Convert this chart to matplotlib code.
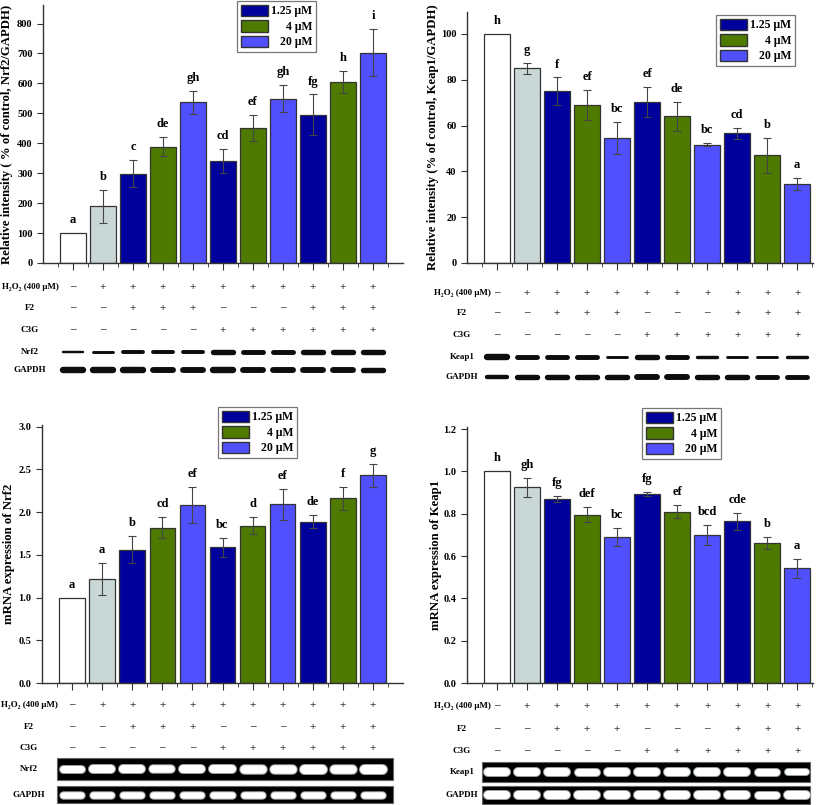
import numpy as np
import matplotlib.pyplot as plt
from matplotlib.patches import Patch, Rectangle

plt.rcParams['font.family'] = ['Liberation Serif', 'DejaVu Serif']
plt.rcParams['font.weight'] = 'bold'

# ---- data ----
lanes = np.arange(1, 12)
h2o2 = ['–', '+', '+', '+', '+', '+', '+', '+', '+', '+', '+']
f2 = ['–', '–', '+', '+', '+', '–', '–', '–', '+', '+', '+']
c3g = ['–', '–', '–', '–', '–', '+', '+', '+', '+', '+', '+']
doses = ['1.25 μM', '4 μM', '20 μM']

nrf2_prot = [100, 190, 298, 388, 537, 342, 451, 549, 496, 605, 703]
nrf2_prot_err = [0, 55, 45, 32, 38, 40, 42, 46, 67, 38, 78]
nrf2_prot_sig = ['a', 'b', 'c', 'de', 'gh', 'cd', 'ef', 'gh', 'fg', 'h', 'i']

keap1_prot = [100, 85, 75, 69, 54.7, 70.2, 64, 51.7, 56.6, 47, 34.6]
keap1_prot_err = [0, 2.5, 6, 6.5, 7, 6.5, 6.5, 0.8, 2.3, 7.5, 2.7]
keap1_prot_sig = ['h', 'g', 'f', 'ef', 'bc', 'ef', 'de', 'bc', 'cd', 'b', 'a']

nrf2_mrna = [1.0, 1.22, 1.56, 1.82, 2.08, 1.59, 1.84, 2.09, 1.89, 2.16, 2.43]
nrf2_mrna_err = [0, 0.19, 0.16, 0.12, 0.21, 0.11, 0.10, 0.18, 0.08, 0.13, 0.13]
nrf2_mrna_sig = ['a', 'a', 'b', 'cd', 'ef', 'bc', 'd', 'ef', 'de', 'f', 'g']

keap1_mrna = [1.0, 0.925, 0.87, 0.795, 0.69, 0.893, 0.81, 0.70, 0.765, 0.66, 0.543]
keap1_mrna_err = [0, 0.045, 0.015, 0.035, 0.043, 0.01, 0.03, 0.047, 0.04, 0.028, 0.045]
keap1_mrna_sig = ['h', 'gh', 'fg', 'def', 'bc', 'fg', 'ef', 'bcd', 'cde', 'b', 'a']

# band thickness (px) read from the blots
wb_nrf2 = [2, 2.5, 3.5, 3.5, 3.5, 5, 4.5, 4.5, 5, 5, 5]
wb_gapdh1 = [6, 6, 6, 5.5, 5.5, 6, 5.5, 5.5, 5.5, 5.5, 5]
wb_keap1 = [6, 4.5, 4.5, 4.5, 2.5, 5, 4.5, 3, 2.5, 2.5, 3]
wb_gapdh2 = [4, 5, 5, 5, 5, 5.5, 5.5, 5, 5, 4.5, 4.5]
pcr_nrf2 = [7, 8, 8, 7.5, 8, 8, 8.5, 8.5, 9, 8.5, 9]
pcr_gapdh1 = [6.5, 6.5, 6.5, 6.5, 6.5, 6.5, 6.5, 6.5, 6.5, 6.5, 6.5]
pcr_keap1 = [8, 8, 8, 7, 8, 8, 8, 8, 8, 7, 6]
pcr_gapdh2 = [8, 8, 8, 8, 8, 8, 8, 8, 8, 7, 8]

colors = ['white', '#c9d7d7', '#00009c', '#4e7a00', '#5050ff',
          '#00009c', '#4e7a00', '#5050ff', '#00009c', '#4e7a00', '#5050ff']

W, H = 817, 805
fig = plt.figure(figsize=(W / 100, H / 100), dpi=100)


def px_axes(x0, y0, x1, y1):
    return fig.add_axes([x0 / W, 1 - y1 / H, (x1 - x0) / W, (y1 - y0) / H])


def bar_panel(box, xlim, vals, errs, sig, ylim, yticks, fmt, ylabel, ylab_px, leg_px):
    x0, y0, x1, y1 = box
    ax = px_axes(*box)
    ax.bar(lanes, vals, width=0.85, color=colors, edgecolor='#333333', linewidth=0.9, zorder=2)
    ax.errorbar(lanes[1:], vals[1:], yerr=errs[1:], fmt='none', ecolor='#444444',
                elinewidth=0.8, capsize=3, capthick=0.8, zorder=3)
    for x, v, e, s in zip(lanes, vals, errs, sig):
        ax.annotate(s, (x, v + e), xytext=(0, 5), textcoords='offset points',
                    ha='center', va='bottom', fontsize=9, fontweight='bold')
    ax.set_xlim(*xlim)
    ax.set_ylim(*ylim)
    ax.set_yticks(yticks)
    ax.set_yticklabels([fmt % t for t in yticks])
    ax.set_xticks(lanes)
    ax.set_xticks(np.arange(0.5, xlim[1], 1.0), minor=True)
    ax.set_xticklabels([])
    for s in ['top', 'right']:
        ax.spines[s].set_visible(False)
    for s in ['left', 'bottom']:
        ax.spines[s].set_color('#333333')
        ax.spines[s].set_linewidth(1.0)
    ax.tick_params(axis='y', direction='out', length=4, labelsize=7.5, colors='#333333',
                   labelcolor='black')
    ax.tick_params(axis='x', which='major', direction='out', length=5, colors='#333333')
    ax.tick_params(axis='x', which='minor', direction='out', length=3, colors='#333333')
    ax.set_ylabel(ylabel, fontsize=9.2, fontweight='bold')
    ax.yaxis.set_label_coords((ylab_px - x0) / (x1 - x0), 0.5)
    handles = [Patch(facecolor=colors[i], edgecolor='#333333') for i in (2, 3, 4)]
    labels = [doses[0], '     ' + doses[1], '   ' + doses[2]]
    leg = ax.legend(handles, labels, loc='upper left',
                    bbox_to_anchor=(leg_px[0] / W, 1 - leg_px[1] / H),
                    bbox_transform=fig.transFigure, borderaxespad=0, fancybox=False,
                    edgecolor='#555555', fontsize=8.5, handlelength=2.3, handleheight=1.1,
                    labelspacing=0.25, borderpad=0.3, handletextpad=0.3)
    leg.get_frame().set_linewidth(0.9)
    return ax


def table_panel(box, xlim, ytop, ybot, label_px, rows_y, names):
    x0, y0, x1, y1 = box
    ax = px_axes(x0, ytop, x1, ybot)
    ax.set_xlim(*xlim)
    ax.set_ylim(ybot, ytop)
    ax.axis('off')
    lx = xlim[0] + (label_px - x0) / (x1 - x0) * (xlim[1] - xlim[0])
    for y, name, row in zip(rows_y[:3], ['H₂O₂ (400 μM)', 'F2', 'C3G'], [h2o2, f2, c3g]):
        ax.text(lx, y, name, ha='center', va='center', fontsize=6.5, fontweight='bold')
        for x, s in zip(lanes, row):
            ax.text(x, y, s, ha='center', va='center', fontsize=8, color='#333333')
    for y, name in zip(rows_y[3:], names):
        ax.text(lx, y, name, ha='center', va='center', fontsize=6.5, fontweight='bold')
    return ax, lambda px: xlim[0] + (px - x0) / (x1 - x0) * (xlim[1] - xlim[0])


def western(ax, y, thick):
    for x, t in zip(lanes, thick):
        ax.plot([x - 0.33, x + 0.33], [y, y], color='black', lw=t * 0.72 + 0.3,
                solid_capstyle='round', alpha=0.95)


def gel(ax, tox, gx0, gx1, gy0, gy1, thick):
    ax.add_patch(Rectangle((tox(gx0), gy0), tox(gx1) - tox(gx0), gy1 - gy0,
                           facecolor='black', edgecolor='#666666', lw=0.8))
    yc = (gy0 + gy1) / 2
    for x, t in zip(lanes, thick):
        ax.plot([x - 0.3, x + 0.3], [yc, yc], color='#9aa0a0', lw=(t + 2) * 0.72,
                solid_capstyle='round')
        ax.plot([x - 0.3, x + 0.3], [yc, yc], color='white', lw=t * 0.72,
                solid_capstyle='round')


# top left: Nrf2 protein
b1 = (43, 5, 403, 263)
bar_panel(b1, (0, 12), nrf2_prot, nrf2_prot_err, nrf2_prot_sig, (0, 862),
          np.arange(0, 801, 100), '%d', 'Relative intensity ( % of control, Nrf2/GAPDH)', 13, (237, 1))
t1, f1 = table_panel(b1, (0, 12), 270, 400, 30, [287, 308, 330, 352, 370], ['Nrf2', 'GAPDH'])
western(t1, 352, wb_nrf2)
western(t1, 370, wb_gapdh1)

# top right: Keap1 protein
b2 = (467, 12, 813, 263)
bar_panel(b2, (0, 11.53), keap1_prot, keap1_prot_err, keap1_prot_sig, (0, 109.6),
          np.arange(0, 101, 20), '%d', 'Relative intensity (% of control, Keap1/GAPDH)', 439, (716, 15))
t2, f2x = table_panel(b2, (0, 11.53), 270, 400, 462, [293, 313, 335, 357, 377], ['Keap1', 'GAPDH'])
western(t2, 357, wb_keap1)
western(t2, 377, wb_gapdh2)

# bottom left: Nrf2 mRNA
b3 = (42, 425, 403, 683)
bar_panel(b3, (0, 12), nrf2_mrna, nrf2_mrna_err, nrf2_mrna_sig, (0, 3.02),
          np.arange(0, 3.01, 0.5), '%.1f', 'mRNA expression of Nrf2', 15, (218, 407))
t3, f3 = table_panel(b3, (0, 12), 690, 805, 29, [705, 727, 748, 769, 795], ['Nrf2', 'GAPDH'])
gel(t3, f3, 57, 393, 758, 780, pcr_nrf2)
gel(t3, f3, 57, 393, 786, 803, pcr_gapdh1)

# bottom right: Keap1 mRNA
b4 = (467, 427, 813, 683)
bar_panel(b4, (0, 11.53), keap1_mrna, keap1_mrna_err, keap1_mrna_sig, (0, 1.21),
          np.arange(0, 1.21, 0.2), '%.1f', 'mRNA expression of Keap1', 442, (642, 408))
t4, f4 = table_panel(b4, (0, 11.53), 690, 805, 462, [706, 729, 751, 772, 795], ['Keap1', 'GAPDH'])
gel(t4, f4, 482, 810, 762, 782, pcr_keap1)
gel(t4, f4, 482, 810, 786, 804, pcr_gapdh2)

fig.savefig('out.png', dpi=100)
